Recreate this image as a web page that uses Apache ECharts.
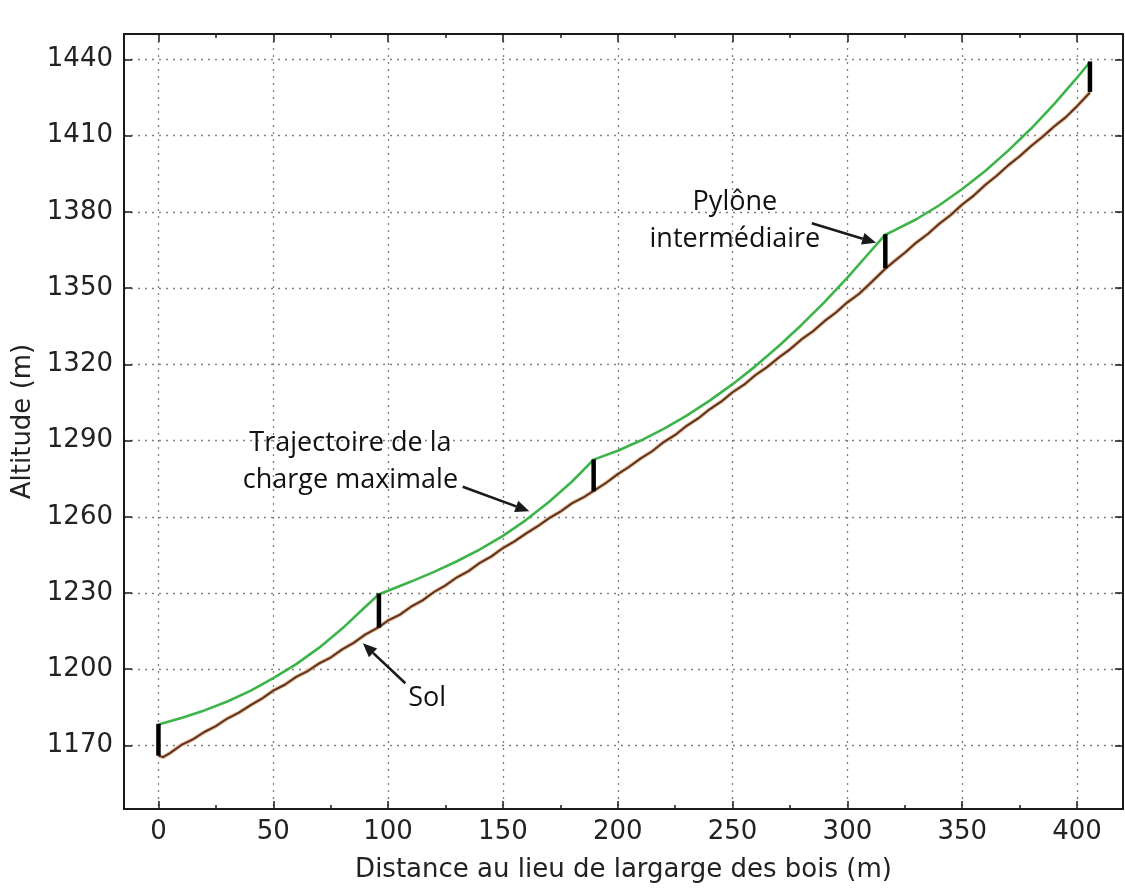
<!DOCTYPE html>
<html>
<head>
<meta charset="utf-8">
<script src="https://cdn.jsdelivr.net/npm/echarts@6/dist/echarts.min.js"></script>
<style>
  html, body { margin: 0; padding: 0; background: #fff; }
  #chart { width: 1125px; height: 891px; }
</style>
</head>
<body>
<div id="chart"></div>
<script>
// profil du terrain (sol)
const solX = [0, 2, 5, 10, 15, 20, 25, 30, 35, 40, 45, 50, 55, 60, 65, 70, 75, 80, 85, 90, 96,
  100, 105, 110, 115, 120, 125, 130, 135, 140, 145, 150, 155, 160, 165, 170, 175, 180, 185, 189.5,
  195, 200, 205, 210, 215, 220, 225, 230, 235, 240, 245, 250, 255, 260, 265, 270, 275, 280, 285,
  290, 295, 300, 305, 310, 316.5, 320, 325, 330, 335, 340, 345, 350, 355, 360, 365, 370, 375, 380,
  385, 390, 395, 400, 405.6];
const solY = [1166.0, 1165.4, 1167.0, 1170.2, 1172.4, 1175.3, 1177.6, 1180.6, 1182.9, 1185.8, 1188.4,
  1191.6, 1193.9, 1197.0, 1199.3, 1202.3, 1204.6, 1207.8, 1210.4, 1213.6, 1216.6,
  1219.2, 1221.4, 1224.6, 1227.1, 1230.4, 1233.0, 1236.2, 1238.6, 1241.9, 1244.4, 1247.7, 1250.3,
  1253.4, 1256.2, 1259.4, 1262.0, 1265.3, 1267.6, 1270.2,
  1273.4, 1276.8, 1279.7, 1283.0, 1285.8, 1289.4, 1292.2, 1295.8, 1298.7, 1302.3, 1305.3, 1309.0,
  1312.0, 1315.8, 1318.9, 1322.6, 1325.9, 1329.8, 1333.0, 1337.0, 1340.4, 1344.4, 1347.7, 1351.9,
  1357.6, 1360.3, 1363.9, 1367.9, 1371.3, 1375.3, 1378.8, 1382.9, 1386.4, 1390.6, 1394.2, 1398.3,
  1401.9, 1405.9, 1409.6, 1413.6, 1417.2, 1421.6, 1427.0];

// trajectoire de la charge maximale
const trajX = [0, 10, 20, 30, 40, 50, 60, 70, 80, 90, 96,
  100, 110, 120, 130, 140, 150, 160, 170, 180, 189.5,
  200, 210, 220, 230, 240, 250, 260, 270, 280, 290, 300, 310, 316.5,
  320, 330, 340, 350, 360, 370, 380, 390, 400, 405.6];
const trajY = [1178.3, 1180.8, 1183.8, 1187.3, 1191.5, 1196.5, 1202.0, 1208.5, 1216.0, 1224.5, 1229.5,
  1230.9, 1234.5, 1238.3, 1242.5, 1247.2, 1252.5, 1258.7, 1265.8, 1273.8, 1282.5,
  1286.0, 1290.0, 1294.6, 1299.8, 1305.7, 1312.2, 1319.3, 1327.1, 1335.5, 1344.5, 1354.1, 1364.4, 1371.0,
  1372.5, 1377.1, 1382.6, 1389.0, 1396.1, 1404.1, 1412.8, 1422.4, 1432.8, 1439.0];

// pylônes
const pylonX = [0, 96, 189.5, 316.5, 405.6];
const pylonBas = [1166, 1216.4, 1270, 1357.8, 1427.2];
const pylonHaut = [1178.5, 1229.8, 1282.6, 1371.2, 1439.2];

// graduations
const xTicks = [0, 50, 100, 150, 200, 250, 300, 350, 400];
const xMinorTicks = [25, 75, 125, 175, 225, 275, 325, 375];
const yTicks = [1170, 1200, 1230, 1260, 1290, 1320, 1350, 1380, 1410, 1440];

const chart = echarts.init(document.getElementById('chart'));

const tickFont = { color: '#222', fontSize: 26, fontFamily: 'DejaVu Sans' };
const axisLine = { show: true, onZero: false, lineStyle: { color: '#1a1a1a', width: 2 } };
const gridLine = { show: true, lineStyle: { color: '#808080', width: 1.3, type: [2, 5] } };
const tickLine = { color: '#1a1a1a', width: 1.5 };

function helperX(pos, values, len) {
  return {
    type: 'value', position: pos, min: -15, max: 420,
    axisLine: axisLine,
    axisTick: { show: true, inside: true, length: len, customValues: values, lineStyle: tickLine },
    axisLabel: { show: false },
    splitLine: { show: false }
  };
}

const option = {
  backgroundColor: '#fff',
  animation: false,
  grid: { left: 124, right: 2, top: 34, bottom: 82, show: true, borderColor: '#1a1a1a', borderWidth: 2 },
  xAxis: [
    {
      type: 'value', position: 'bottom', min: -15, max: 420,
      name: 'Distance au lieu de largarge des bois (m)',
      nameLocation: 'middle', nameGap: 48,
      nameTextStyle: { color: '#222', fontSize: 26, fontFamily: 'DejaVu Sans' },
      axisLine: axisLine,
      axisTick: { show: true, inside: true, length: 8, customValues: xTicks, lineStyle: tickLine },
      axisLabel: Object.assign({ margin: 10, customValues: xTicks }, tickFont),
      splitLine: gridLine
    },
    helperX('top', xTicks, 8),
    helperX('bottom', xMinorTicks, 4),
    helperX('top', xMinorTicks, 4)
  ],
  yAxis: [
    {
      type: 'value', position: 'left', min: 1145, max: 1450,
      name: 'Altitude (m)',
      nameLocation: 'middle', nameGap: 82,
      nameTextStyle: { color: '#222', fontSize: 26, fontFamily: 'DejaVu Sans' },
      axisLine: axisLine,
      axisTick: { show: true, inside: true, length: 8, customValues: yTicks, lineStyle: tickLine },
      axisLabel: Object.assign({ margin: 11, customValues: yTicks, formatter: v => String(v) }, tickFont),
      splitLine: gridLine
    },
    {
      type: 'value', position: 'right', min: 1145, max: 1450,
      axisLine: axisLine,
      axisTick: { show: true, inside: true, length: 8, customValues: yTicks, lineStyle: tickLine },
      axisLabel: { show: false },
      splitLine: { show: false }
    }
  ],
  series: [
    {
      name: 'Sol (halo)', type: 'line', symbol: 'none', silent: true,
      data: solX.map((x, i) => [x, solY[i]]),
      lineStyle: { color: '#e8bc96', width: 4 }
    },
    {
      name: 'Sol', type: 'line', symbol: 'none',
      data: solX.map((x, i) => [x, solY[i]]),
      lineStyle: { color: '#5a3222', width: 2 }
    },
    {
      name: 'Trajectoire', type: 'line', symbol: 'none',
      data: trajX.map((x, i) => [x, trajY[i]]),
      lineStyle: { color: '#3cb449', width: 2.6 }
    },
    {
      name: 'Pylônes', type: 'custom',
      data: pylonX.map((x, i) => [x, pylonBas[i], pylonHaut[i]]),
      renderItem(params, api) {
        const a = api.coord([api.value(0), api.value(1)]);
        const b = api.coord([api.value(0), api.value(2)]);
        return {
          type: 'line',
          shape: { x1: a[0], y1: a[1], x2: b[0], y2: b[1] },
          style: { stroke: '#000', lineWidth: 4.5 }
        };
      },
      z: 5
    }
  ]
};

chart.setOption(option);

// annotations (positions en coordonnées des données)
const notes = [
  { text: 'Pylône\nintermédiaire', at: [251, 1376.5], from: [284.5, 1375.5], to: [312.5, 1367.8] },
  { text: 'Trajectoire de la\ncharge maximale', at: [83.6, 1281.5], from: [132.5, 1271.8], to: [161.5, 1262.2] },
  { text: 'Sol', at: [117, 1188.5], from: [107.5, 1194.5], to: [89, 1210.2] }
];

const graphics = [];
notes.forEach(n => {
  const c = chart.convertToPixel({ gridIndex: 0 }, n.at);
  const p0 = chart.convertToPixel({ gridIndex: 0 }, n.from);
  const p1 = chart.convertToPixel({ gridIndex: 0 }, n.to);
  graphics.push({
    type: 'text', x: c[0], y: c[1], z: 10,
    style: {
      text: n.text, fill: '#111', font: '27px "Open Sans"',
      align: 'center', verticalAlign: 'middle', lineHeight: 37
    }
  });
  const dx = p1[0] - p0[0], dy = p1[1] - p0[1];
  const len = Math.sqrt(dx * dx + dy * dy);
  const ux = dx / len, uy = dy / len;
  const head = 14, half = 6;
  const bx = p1[0] - ux * head, by = p1[1] - uy * head;
  graphics.push({
    type: 'line', z: 10,
    shape: { x1: p0[0], y1: p0[1], x2: bx, y2: by },
    style: { stroke: '#1a1a1a', lineWidth: 2.6 }
  });
  graphics.push({
    type: 'polygon', z: 10,
    shape: { points: [[p1[0], p1[1]], [bx - uy * half, by + ux * half], [bx + uy * half, by - ux * half]] },
    style: { fill: '#1a1a1a' }
  });
});
chart.setOption({ graphic: graphics });

window.addEventListener('resize', () => chart.resize());
</script>
</body>
</html>
